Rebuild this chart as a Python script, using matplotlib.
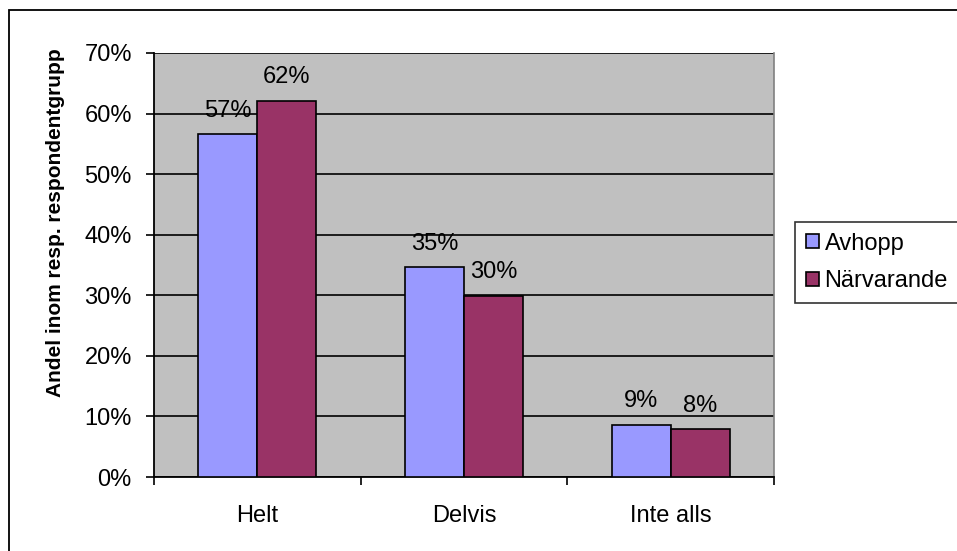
import numpy as np
import matplotlib.pyplot as plt
from matplotlib.patches import Rectangle

plt.rcParams['font.family'] = ['Liberation Sans', 'DejaVu Sans']

categories = ['Helt', 'Delvis', 'Inte alls']
avhopp = [56.6, 34.6, 8.6]
narvarande = [62.1, 29.9, 7.9]
series_names = ['Avhopp', 'Närvarande']
yticks = [0, 10, 20, 30, 40, 50, 60, 70]

fig = plt.figure(figsize=(9.57, 5.51), dpi=100)
W, H = 957, 551
ax = fig.add_axes([154 / W, 1 - 477 / H, (774 - 154) / W, (477 - 53) / H])

# outer chart border (runs off the right and bottom edges)
fig.patches.append(Rectangle((9 / W, -0.1), 1.2, 1 - 10 / H + 0.1,
                             transform=fig.transFigure, fill=False,
                             edgecolor='black', linewidth=1.3))

ax.set_facecolor('#C0C0C0')
x = np.arange(len(categories))
w = 0.286
b1 = ax.bar(x - w / 2, avhopp, w, color='#9999FF', edgecolor='black',
            linewidth=1.2, label=series_names[0], zorder=3)
b2 = ax.bar(x + w / 2, narvarande, w, color='#993366', edgecolor='black',
            linewidth=1.2, label=series_names[1], zorder=3)

for bars, vals in ((b1, avhopp), (b2, narvarande)):
    for bar, v in zip(bars, vals):
        ax.annotate(f'{round(v)}%', (bar.get_x() + bar.get_width() / 2, v),
                    xytext=(0, 9), textcoords='offset points',
                    ha='center', va='bottom', fontsize=17, zorder=4)

ax.set_xlim(-0.5, 2.5)
ax.set_ylim(0, 70)
ax.set_yticks(yticks)
ax.set_yticklabels([f'{t}%' for t in yticks], fontsize=17)
ax.yaxis.grid(True, color='black', linewidth=1.2, zorder=1)
ax.set_axisbelow(True)

ax.set_xticks(x)
ax.set_xticklabels(categories, fontsize=17)
ax.set_xticks([-0.5, 0.5, 1.5, 2.5], minor=True)
ax.tick_params(axis='x', which='major', length=0, pad=20)
ax.tick_params(axis='x', which='minor', length=6, width=1.2, direction='out')
ax.tick_params(axis='y', length=6, width=1.2, direction='out', pad=10)

for s in ('left', 'bottom'):
    ax.spines[s].set_linewidth(1.3)
    ax.spines[s].set_color('black')
ax.spines['top'].set_visible(False)
ax.spines['right'].set_color('#808080')
ax.spines['right'].set_linewidth(1.2)

fig.text(56 / W, 1 - 223 / H, 'Andel inom resp. respondentgrupp',
         rotation=90, ha='center', va='center', fontsize=15,
         fontweight='bold')

leg = fig.legend(handles=[b1, b2], loc='upper left',
                 bbox_to_anchor=(795 / W, 1 - 222 / H), fontsize=17,
                 frameon=True, fancybox=False, edgecolor='black',
                 handlelength=0.55, handleheight=0.55, handletextpad=0.25,
                 borderpad=0.45, labelspacing=0.65, borderaxespad=0)
leg.get_frame().set_linewidth(1.2)

fig.savefig('out.png', dpi=100)
